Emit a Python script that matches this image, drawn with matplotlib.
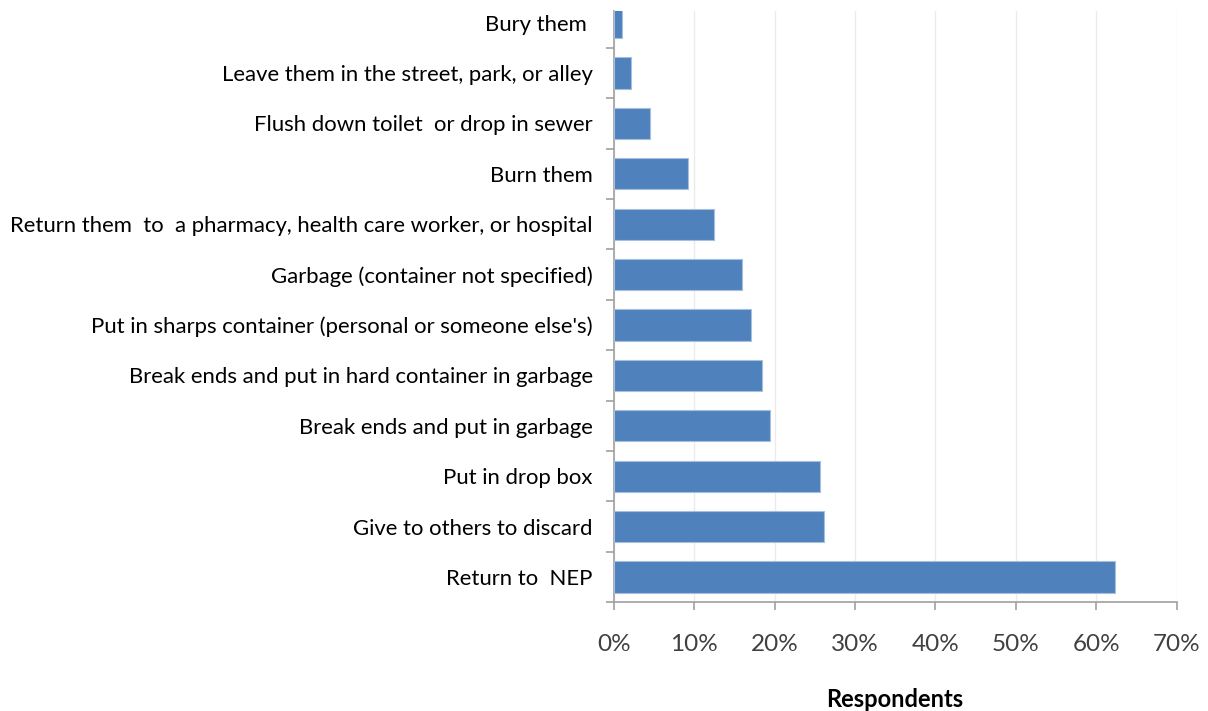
import numpy as np
import matplotlib.pyplot as plt
from matplotlib.ticker import FuncFormatter

plt.rcParams['font.family'] = ['Lato', 'DejaVu Sans']

# categories, bottom to top as drawn
labels = ['Return to  NEP',
          'Give to others to discard',
          'Put in drop box',
          'Break ends and put in garbage',
          'Break ends and put in hard container in garbage',
          "Put in sharps container (personal or someone else's)",
          'Garbage (container not specified)',
          'Return them  to  a pharmacy, health care worker, or hospital',
          'Burn them',
          'Flush down toilet  or drop in sewer',
          'Leave them in the street, park, or alley',
          'Bury them ']
pct = [62.4, 26.1, 25.6, 19.5, 18.4, 17.1, 16.0, 12.5, 9.2, 4.5, 2.1, 1.0]

fig = plt.figure(figsize=(12.08, 7.11), dpi=100)
# plot area top sits a little into the top category, so the top bar is cut
ax = fig.add_axes([0.508, 0.153, 0.466, 0.8315])

y = np.arange(len(labels))
ax.barh(y, pct, height=0.62, color='#4F81BD', edgecolor='#A7BFDE', linewidth=0.8, zorder=3)

ax.set_xlim(0, 70)
ax.set_ylim(-0.5, len(labels) - 0.77)
ax.set_xticks(np.arange(0, 71, 10))
ax.xaxis.set_major_formatter(FuncFormatter(lambda v, p: '%d%%' % v))
ax.set_yticks(y)
ax.set_yticklabels(labels)
ax.set_yticks(np.arange(-0.5, len(labels) - 1, 1), minor=True)

ax.grid(axis='x', color='#EBEBEB', linewidth=1, zorder=0)
for s in ['top', 'right']:
    ax.spines[s].set_visible(False)
for s in ['left', 'bottom']:
    ax.spines[s].set_color('#A0A0A0')
    ax.spines[s].set_linewidth(1.2)

ax.tick_params(axis='y', which='major', length=0, pad=15, labelsize=15.9, colors='black')
ax.tick_params(axis='y', which='minor', length=6, color='#A0A0A0', width=1.2)
ax.tick_params(axis='x', length=6, color='#A0A0A0', width=1.2, pad=17, labelsize=17.5,
               labelcolor='#404040')

ax.set_xlabel('Respondents', fontsize=17, fontweight='bold', labelpad=24)

plt.savefig('out.png', dpi=100)
